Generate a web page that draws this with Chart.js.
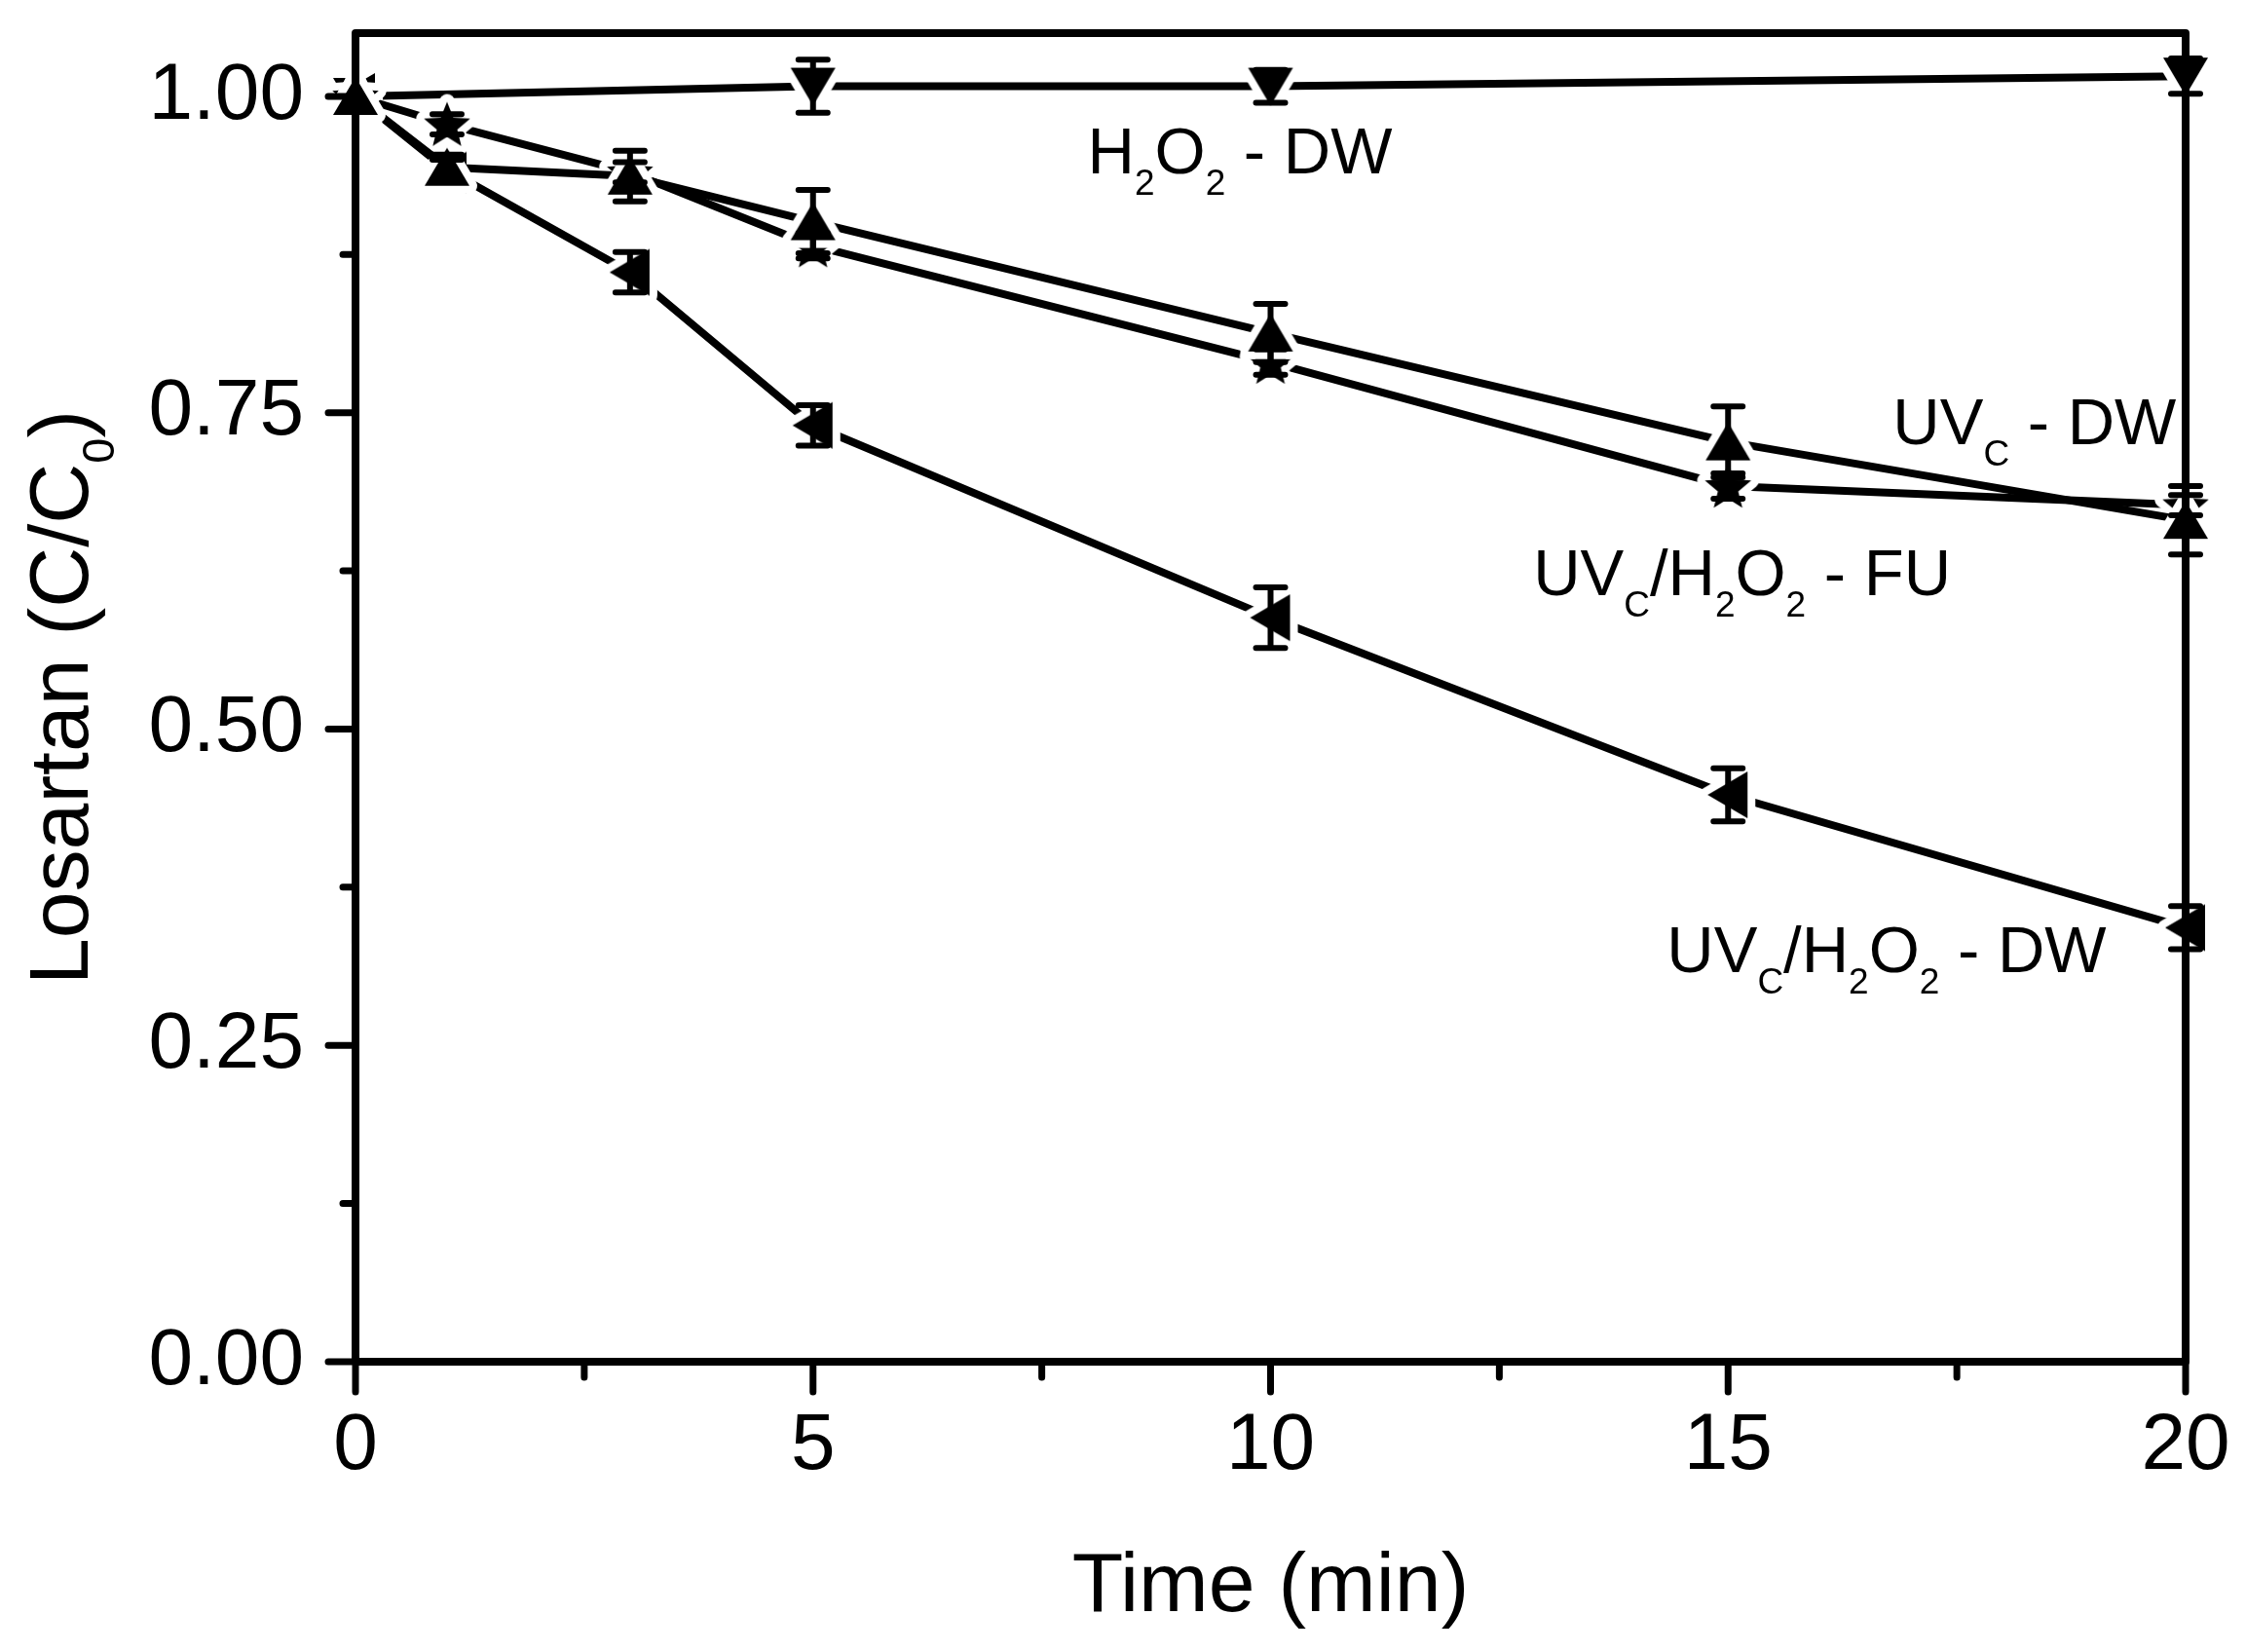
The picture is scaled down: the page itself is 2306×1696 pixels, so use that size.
<!DOCTYPE html>
<html>
<head>
<meta charset="utf-8">
<script src="https://cdn.jsdelivr.net/npm/chart.js@4.4.0/dist/chart.umd.min.js"></script>
<style>
html,body{margin:0;padding:0;background:#fff;}
#wrap{width:2306px;height:1696px;position:relative;}
canvas{display:block;}
</style>
</head>
<body>
<div id="wrap"><canvas id="c"></canvas></div>
<script>
// ---- data ----
const timeH2O2 = [0, 5, 10, 20];
const valH2O2  = [1.000, 1.008, 1.008, 1.016];
const errH2O2  = [0, 0.021, 0.013, 0.014];

const timeAll  = [0, 1, 3, 5, 10, 15, 20];
const valUVC   = [1.000, 0.944, 0.937, 0.901, 0.813, 0.727, 0.665];
const errUVC   = [0, 0.010, 0.020, 0.025, 0.023, 0.028, 0.027];
const valFU    = [1.000, 0.978, 0.940, 0.882, 0.790, 0.692, 0.677];
const errFU    = [0, 0.008, 0.008, 0.010, 0.010, 0.010, 0.008];
const valDW    = [1.000, 0.942, 0.861, 0.740, 0.588, 0.448, 0.343];
const errDW    = [0, 0.008, 0.016, 0.016, 0.024, 0.021, 0.017];

const xTicks = [0, 5, 10, 15, 20];
const yTicks = [0, 0.25, 0.50, 0.75, 1.00];

const seriesNames = ['UVC - DW', 'UVC/H2O2 - FU', 'UVC/H2O2 - DW', 'H2O2 - DW'];

// rich-text labels: [text, isSubscript]
const noteTexts = [
  [['H'], ['2', 1], ['O'], ['2', 1], [' - DW']],
  [['UV'], ['C', 1], [' - DW']],
  [['UV'], ['C', 1], ['/H'], ['2', 1], ['O'], ['2', 1], [' - FU']],
  [['UV'], ['C', 1], ['/H'], ['2', 1], ['O'], ['2', 1], [' - DW']]
];
const yTitleText = [['Losartan (C/C'], ['0', 1], [')']];
const xTitleText = 'Time (min)';

// ---- layout / style (not data) ----
const notePos = [
  {x: 8.00, y: 0.939},
  {x: 16.80, y: 0.725},
  {x: 12.87, y: 0.606},
  {x: 14.33, y: 0.308}
];
const FONT = '"Liberation Sans", Arial, sans-serif';

function makeMarker(pathFn) {
  const c = document.createElement('canvas');
  c.width = 84; c.height = 84;
  const g = c.getContext('2d');
  g.translate(42, 42);
  g.beginPath(); pathFn(g); g.closePath();
  g.lineJoin = 'round';
  g.strokeStyle = '#fff'; g.lineWidth = 16; g.stroke();
  g.fillStyle = '#000'; g.fill();
  return c;
}
const mUp = makeMarker(g => { g.moveTo(0, -20); g.lineTo(23, 19); g.lineTo(-23, 19); });
const mDown = makeMarker(g => { g.moveTo(0, 20); g.lineTo(23, -19); g.lineTo(-23, -19); });
const mLeft = makeMarker(g => { g.moveTo(-21, 0); g.lineTo(20, -24); g.lineTo(20, 24); });
const mStar = makeMarker(g => {
  for (let k = 0; k < 10; k++) {
    const r = k % 2 === 0 ? 25 : 11;
    const a = -Math.PI / 2 + k * Math.PI / 5;
    const px = r * Math.cos(a), py = r * Math.sin(a) + 2;
    if (k === 0) g.moveTo(px, py); else g.lineTo(px, py);
  }
});

function drawRich(ctx, segs, x, y, size, subSize, drop) {
  let cx = x;
  segs.forEach(s => {
    const sub = !!s[1];
    ctx.font = (sub ? subSize : size) + 'px ' + FONT;
    ctx.fillText(s[0], cx, sub ? y + drop : y);
    cx += ctx.measureText(s[0]).width;
  });
  return cx - x;
}
function richWidth(ctx, segs, size, subSize) {
  let w = 0;
  segs.forEach(s => { ctx.font = (s[1] ? subSize : size) + 'px ' + FONT; w += ctx.measureText(s[0]).width; });
  return w;
}

const overlay = {
  id: 'overlay',
  afterDatasetsDraw(chart) {
    const ctx = chart.ctx, xs = chart.scales.x, ys = chart.scales.y, a = chart.chartArea;
    ctx.save();
    ctx.strokeStyle = '#000'; ctx.fillStyle = '#000';
    // error bars
    ctx.lineWidth = 6; ctx.lineCap = 'round';
    chart.data.datasets.forEach(ds => {
      ds.data.forEach((p, i) => {
        const e = ds.errors[i];
        if (!e) return;
        const x = xs.getPixelForValue(p.x);
        const y1 = ys.getPixelForValue(p.y + e), y2 = ys.getPixelForValue(p.y - e);
        ctx.beginPath();
        ctx.moveTo(x, y1); ctx.lineTo(x, y2);
        ctx.moveTo(x - 15, y1); ctx.lineTo(x + 15, y1);
        ctx.moveTo(x - 15, y2); ctx.lineTo(x + 15, y2);
        ctx.stroke();
      });
    });
    // frame
    ctx.lineWidth = 8; ctx.lineJoin = 'round'; ctx.lineCap = 'butt';
    ctx.strokeRect(a.left, a.top, a.right - a.left, a.bottom - a.top);
    // ticks
    ctx.lineWidth = 7; ctx.lineCap = 'round';
    ctx.beginPath();
    xTicks.forEach((v, i) => {
      const x = xs.getPixelForValue(v);
      ctx.moveTo(x, a.bottom); ctx.lineTo(x, a.bottom + 31);
      if (i < xTicks.length - 1) {
        const xm = xs.getPixelForValue((v + xTicks[i + 1]) / 2);
        ctx.moveTo(xm, a.bottom); ctx.lineTo(xm, a.bottom + 16);
      }
    });
    yTicks.forEach((v, i) => {
      const y = ys.getPixelForValue(v);
      ctx.moveTo(a.left, y); ctx.lineTo(a.left - 28, y);
      if (i < yTicks.length - 1) {
        const ym = ys.getPixelForValue((v + yTicks[i + 1]) / 2);
        ctx.moveTo(a.left, ym); ctx.lineTo(a.left - 13, ym);
      }
    });
    ctx.stroke();
    // annotations
    ctx.textBaseline = 'alphabetic'; ctx.textAlign = 'left';
    noteTexts.forEach((segs, i) => {
      drawRich(ctx, segs, xs.getPixelForValue(notePos[i].x), ys.getPixelForValue(notePos[i].y), 67, 37, 22);
    });
    // y title
    ctx.save();
    ctx.translate(90, (a.top + a.bottom) / 2);
    ctx.rotate(-Math.PI / 2);
    const w = richWidth(ctx, yTitleText, 86, 47);
    drawRich(ctx, yTitleText, -w / 2, 0, 86, 47, 27);
    ctx.restore();
    ctx.restore();
  }
};

function pts(xsArr, ysArr) { return xsArr.map((t, i) => ({x: t, y: ysArr[i]})); }

new Chart(document.getElementById('c'), {
  type: 'line',
  data: {
    datasets: [
      {label: seriesNames[0], data: pts(timeAll, valUVC), errors: errUVC, pointStyle: mUp},
      {label: seriesNames[1], data: pts(timeAll, valFU), errors: errFU, pointStyle: mStar},
      {label: seriesNames[2], data: pts(timeAll, valDW), errors: errDW, pointStyle: mLeft},
      {label: seriesNames[3], data: pts(timeH2O2, valH2O2), errors: errH2O2, pointStyle: mDown}
    ].map(d => Object.assign(d, {clip: false, borderColor: '#000', backgroundColor: '#000', borderWidth: 8, tension: 0,
      borderCapStyle: 'round', borderJoinStyle: 'round', pointRadius: 22, pointBorderWidth: 0, fill: false}))
  },
  options: {
    responsive: true, maintainAspectRatio: false, animation: false, devicePixelRatio: 1,
    layout: {padding: {top: 34, right: 62, left: 0, bottom: 0}},
    plugins: {legend: {display: false}, tooltip: {enabled: false}},
    scales: {
      x: {
        type: 'linear', min: 0, max: 20,
        afterBuildTicks: s => { s.ticks = xTicks.map(v => ({value: v})); },
        afterFit: s => { s.height = 298; s.paddingLeft = 0; s.paddingRight = 0; s.paddingTop = 0; s.paddingBottom = 0; },
        grid: {display: true, drawOnChartArea: false, drawTicks: true, tickLength: 30, color: 'rgba(0,0,0,0)'},
        border: {display: false},
        ticks: {font: {family: FONT, size: 82}, color: '#000', padding: 8, maxRotation: 0, autoSkip: false,
          callback: v => String(v)},
        title: {display: true, text: xTitleText, color: '#000', font: {family: FONT, size: 86}, padding: {top: 0, bottom: 14}}
      },
      y: {
        type: 'linear', min: 0, max: 1.05,
        afterBuildTicks: s => { s.ticks = yTicks.map(v => ({value: v})); },
        afterFit: s => { s.width = 365; s.paddingLeft = 0; s.paddingRight = 0; s.paddingTop = 0; s.paddingBottom = 0; },
        grid: {display: true, drawOnChartArea: false, drawTicks: true, tickLength: 30, color: 'rgba(0,0,0,0)'},
        border: {display: false},
        ticks: {font: {family: FONT, size: 82}, color: '#000', padding: 23, autoSkip: false,
          callback: v => Number(v).toFixed(2)}
      }
    }
  },
  plugins: [overlay]
});
</script>
</body>
</html>
